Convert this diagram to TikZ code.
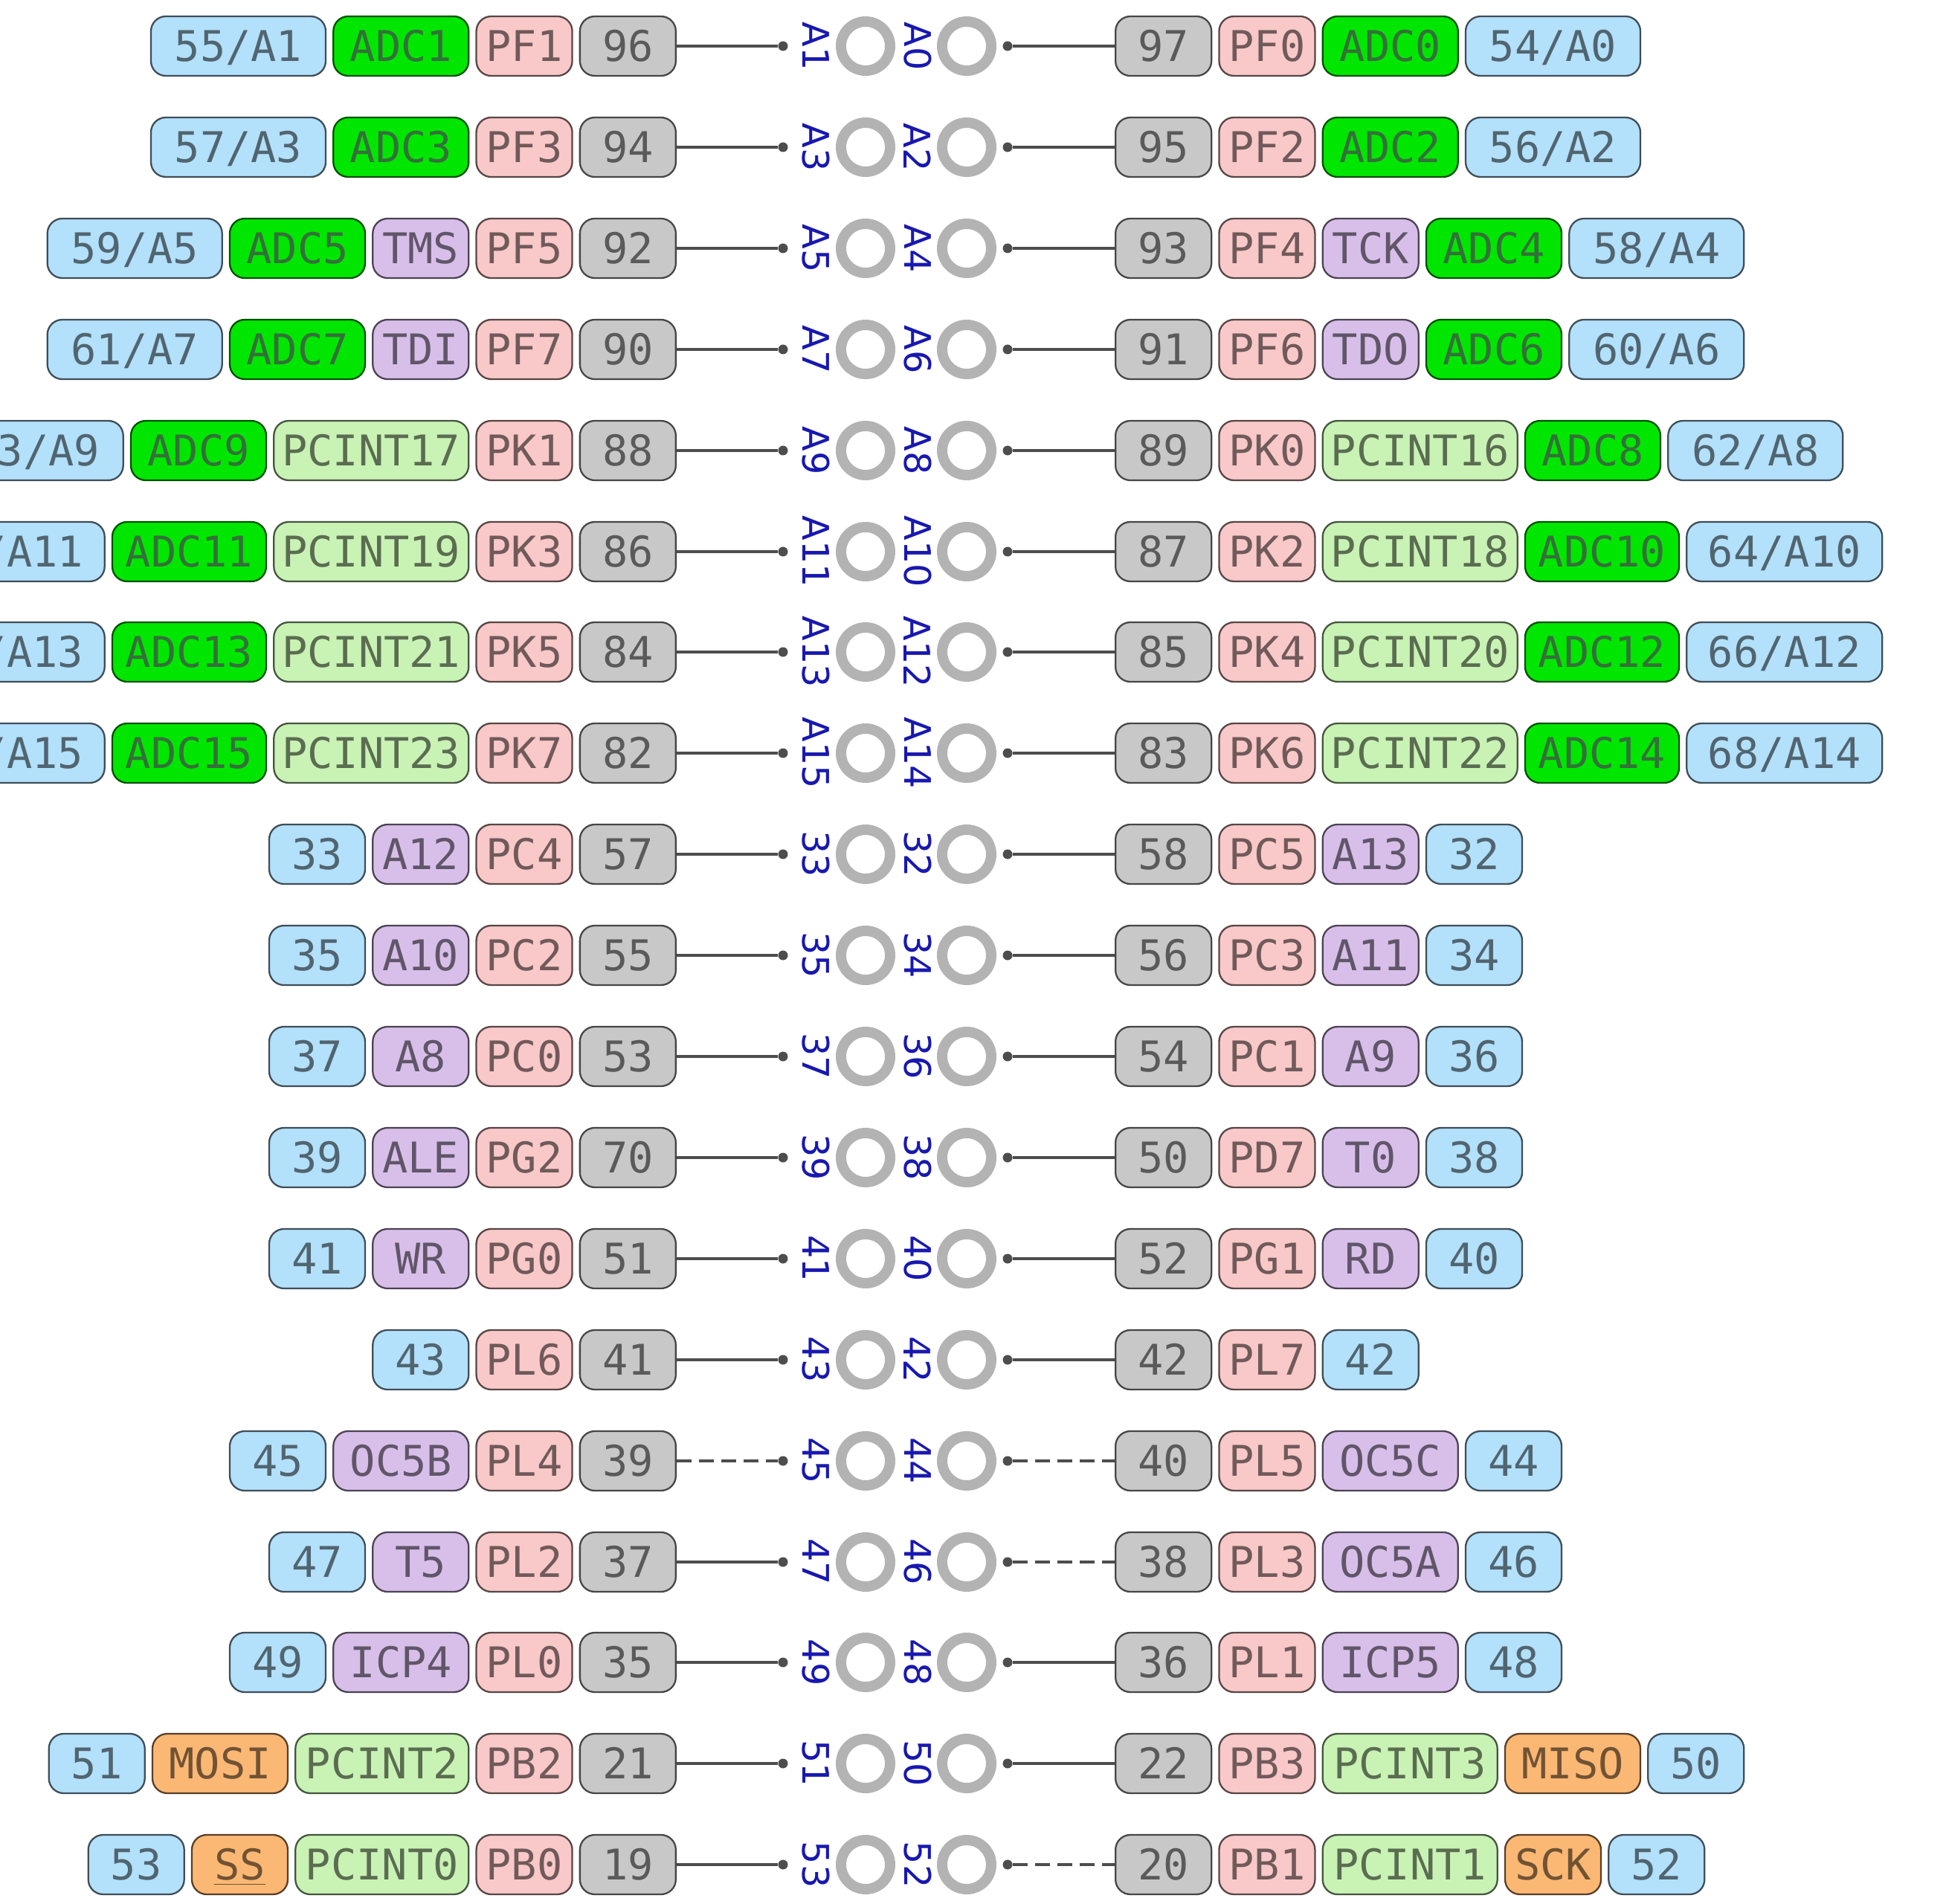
\documentclass[tikz,border=0pt]{standalone}
\usepackage{fontspec}
\usepackage{xcolor}
\usetikzlibrary{positioning}
\newfontfamily\pinmono{DejaVu Sans Mono}
\newfontfamily\pinsans{DejaVu Sans}
\definecolor{numgray}{HTML}{C8C8C8}
\definecolor{portpink}{HTML}{F9C8C8}
\definecolor{ardblue}{HTML}{B3E0FA}
\definecolor{adcgreen}{HTML}{00E600}
\definecolor{adctext}{HTML}{35703A}
\definecolor{altpurple}{HTML}{D8BFEA}
\definecolor{pcintgreen}{HTML}{C9F2B5}
\definecolor{spiorange}{HTML}{FBB874}
\definecolor{ringgray}{HTML}{B3B3B3}
\definecolor{lblblue}{HTML}{1818B0}
\definecolor{wiregray}{HTML}{4D4D4D}

\begin{document}
\begin{tikzpicture}[
  node distance=0.08cm,
  box/.style={rectangle, rounded corners=0.2cm, draw=#1!35!black, fill=#1, text=#1!45!black, line width=0.65pt, minimum width=1.29cm, minimum height=0.80cm, inner sep=0pt, text height=11.8pt, text depth=0pt, font=\pinmono\fontsize{16.2pt}{17pt}\selectfont},
  num/.style={box=numgray},
  port/.style={box=portpink},
  ard/.style={box=ardblue},
  adc/.style={box=adcgreen, text=adctext},
  alt/.style={box=altpurple},
  pcint/.style={box=pcintgreen},
  spi/.style={box=spiorange},
  wd/.style={minimum width=#1},
  pinring/.style={circle, draw=ringgray, line width=0.14cm, minimum size=0.66cm, inner sep=0pt},
  pinlbl/.style={rotate=-90, text=lblblue, inner sep=0pt, font=\pinsans\fontsize{14pt}{14pt}\selectfont},
  pindot/.style={circle, fill=wiregray, minimum size=0.13cm, inner sep=0pt},
  wire/.style={wiregray, line width=0.04cm},
  dwire/.style={wire, dash pattern=on 0.2cm off 0.1cm},
]

% page
\fill[white] (0,0) rectangle (26.17,-25.61);
\useasboundingbox (0,0) rectangle (26.17,-25.61);

% A1 / A0
\node[num, anchor=east] (l1a) at (9.10,-0.62) {96};
\node[port, left=of l1a] (l1b) {PF1};
\node[adc, wd=1.82cm, left=of l1b] (l1c) {ADC1};
\node[ard, wd=2.35cm, left=of l1c] (l1d) {55/A1};
\node[pindot] (ld1) at (10.53,-0.62) {};
\node[pinlbl] (lt1) at (10.97,-0.62) {A1};
\node[pinring] (lc1) at (11.64,-0.62) {};
\node[pinlbl] (rt1) at (12.34,-0.62) {A0};
\node[pinring] (rc1) at (13.00,-0.62) {};
\node[pindot] (rd1) at (13.55,-0.62) {};
\node[num, anchor=west] (r1a) at (14.99,-0.62) {97};
\node[port, right=of r1a] (r1b) {PF0};
\node[adc, wd=1.82cm, right=of r1b] (r1c) {ADC0};
\node[ard, wd=2.35cm, right=of r1c] (r1d) {54/A0};
\draw[wire] (l1a) -- (ld1);
\draw[wire] (rd1) -- (r1a);

% A3 / A2
\node[num, anchor=east] (l2a) at (9.10,-1.98) {94};
\node[port, left=of l2a] (l2b) {PF3};
\node[adc, wd=1.82cm, left=of l2b] (l2c) {ADC3};
\node[ard, wd=2.35cm, left=of l2c] (l2d) {57/A3};
\node[pindot] (ld2) at (10.53,-1.98) {};
\node[pinlbl] (lt2) at (10.97,-1.98) {A3};
\node[pinring] (lc2) at (11.64,-1.98) {};
\node[pinlbl] (rt2) at (12.34,-1.98) {A2};
\node[pinring] (rc2) at (13.00,-1.98) {};
\node[pindot] (rd2) at (13.55,-1.98) {};
\node[num, anchor=west] (r2a) at (14.99,-1.98) {95};
\node[port, right=of r2a] (r2b) {PF2};
\node[adc, wd=1.82cm, right=of r2b] (r2c) {ADC2};
\node[ard, wd=2.35cm, right=of r2c] (r2d) {56/A2};
\draw[wire] (l2a) -- (ld2);
\draw[wire] (rd2) -- (r2a);

% A5 / A4
\node[num, anchor=east] (l3a) at (9.10,-3.34) {92};
\node[port, left=of l3a] (l3b) {PF5};
\node[alt, left=of l3b] (l3c) {TMS};
\node[adc, wd=1.82cm, left=of l3c] (l3d) {ADC5};
\node[ard, wd=2.35cm, left=of l3d] (l3e) {59/A5};
\node[pindot] (ld3) at (10.53,-3.34) {};
\node[pinlbl] (lt3) at (10.97,-3.34) {A5};
\node[pinring] (lc3) at (11.64,-3.34) {};
\node[pinlbl] (rt3) at (12.34,-3.34) {A4};
\node[pinring] (rc3) at (13.00,-3.34) {};
\node[pindot] (rd3) at (13.55,-3.34) {};
\node[num, anchor=west] (r3a) at (14.99,-3.34) {93};
\node[port, right=of r3a] (r3b) {PF4};
\node[alt, right=of r3b] (r3c) {TCK};
\node[adc, wd=1.82cm, right=of r3c] (r3d) {ADC4};
\node[ard, wd=2.35cm, right=of r3d] (r3e) {58/A4};
\draw[wire] (l3a) -- (ld3);
\draw[wire] (rd3) -- (r3a);

% A7 / A6
\node[num, anchor=east] (l4a) at (9.10,-4.70) {90};
\node[port, left=of l4a] (l4b) {PF7};
\node[alt, left=of l4b] (l4c) {TDI};
\node[adc, wd=1.82cm, left=of l4c] (l4d) {ADC7};
\node[ard, wd=2.35cm, left=of l4d] (l4e) {61/A7};
\node[pindot] (ld4) at (10.53,-4.70) {};
\node[pinlbl] (lt4) at (10.97,-4.70) {A7};
\node[pinring] (lc4) at (11.64,-4.70) {};
\node[pinlbl] (rt4) at (12.34,-4.70) {A6};
\node[pinring] (rc4) at (13.00,-4.70) {};
\node[pindot] (rd4) at (13.55,-4.70) {};
\node[num, anchor=west] (r4a) at (14.99,-4.70) {91};
\node[port, right=of r4a] (r4b) {PF6};
\node[alt, right=of r4b] (r4c) {TDO};
\node[adc, wd=1.82cm, right=of r4c] (r4d) {ADC6};
\node[ard, wd=2.35cm, right=of r4d] (r4e) {60/A6};
\draw[wire] (l4a) -- (ld4);
\draw[wire] (rd4) -- (r4a);

% A9 / A8
\node[num, anchor=east] (l5a) at (9.10,-6.06) {88};
\node[port, left=of l5a] (l5b) {PK1};
\node[pcint, wd=2.62cm, left=of l5b] (l5c) {PCINT17};
\node[adc, wd=1.82cm, left=of l5c] (l5d) {ADC9};
\node[ard, wd=2.35cm, left=of l5d] (l5e) {63/A9};
\node[pindot] (ld5) at (10.53,-6.06) {};
\node[pinlbl] (lt5) at (10.97,-6.06) {A9};
\node[pinring] (lc5) at (11.64,-6.06) {};
\node[pinlbl] (rt5) at (12.34,-6.06) {A8};
\node[pinring] (rc5) at (13.00,-6.06) {};
\node[pindot] (rd5) at (13.55,-6.06) {};
\node[num, anchor=west] (r5a) at (14.99,-6.06) {89};
\node[port, right=of r5a] (r5b) {PK0};
\node[pcint, wd=2.62cm, right=of r5b] (r5c) {PCINT16};
\node[adc, wd=1.82cm, right=of r5c] (r5d) {ADC8};
\node[ard, wd=2.35cm, right=of r5d] (r5e) {62/A8};
\draw[wire] (l5a) -- (ld5);
\draw[wire] (rd5) -- (r5a);

% A11 / A10
\node[num, anchor=east] (l6a) at (9.10,-7.42) {86};
\node[port, left=of l6a] (l6b) {PK3};
\node[pcint, wd=2.62cm, left=of l6b] (l6c) {PCINT19};
\node[adc, wd=2.07cm, left=of l6c] (l6d) {ADC11};
\node[ard, wd=2.63cm, left=of l6d] (l6e) {65/A11};
\node[pindot] (ld6) at (10.53,-7.42) {};
\node[pinlbl] (lt6) at (10.97,-7.42) {A11};
\node[pinring] (lc6) at (11.64,-7.42) {};
\node[pinlbl] (rt6) at (12.34,-7.42) {A10};
\node[pinring] (rc6) at (13.00,-7.42) {};
\node[pindot] (rd6) at (13.55,-7.42) {};
\node[num, anchor=west] (r6a) at (14.99,-7.42) {87};
\node[port, right=of r6a] (r6b) {PK2};
\node[pcint, wd=2.62cm, right=of r6b] (r6c) {PCINT18};
\node[adc, wd=2.07cm, right=of r6c] (r6d) {ADC10};
\node[ard, wd=2.63cm, right=of r6d] (r6e) {64/A10};
\draw[wire] (l6a) -- (ld6);
\draw[wire] (rd6) -- (r6a);

% A13 / A12
\node[num, anchor=east] (l7a) at (9.10,-8.77) {84};
\node[port, left=of l7a] (l7b) {PK5};
\node[pcint, wd=2.62cm, left=of l7b] (l7c) {PCINT21};
\node[adc, wd=2.07cm, left=of l7c] (l7d) {ADC13};
\node[ard, wd=2.63cm, left=of l7d] (l7e) {67/A13};
\node[pindot] (ld7) at (10.53,-8.77) {};
\node[pinlbl] (lt7) at (10.97,-8.77) {A13};
\node[pinring] (lc7) at (11.64,-8.77) {};
\node[pinlbl] (rt7) at (12.34,-8.77) {A12};
\node[pinring] (rc7) at (13.00,-8.77) {};
\node[pindot] (rd7) at (13.55,-8.77) {};
\node[num, anchor=west] (r7a) at (14.99,-8.77) {85};
\node[port, right=of r7a] (r7b) {PK4};
\node[pcint, wd=2.62cm, right=of r7b] (r7c) {PCINT20};
\node[adc, wd=2.07cm, right=of r7c] (r7d) {ADC12};
\node[ard, wd=2.63cm, right=of r7d] (r7e) {66/A12};
\draw[wire] (l7a) -- (ld7);
\draw[wire] (rd7) -- (r7a);

% A15 / A14
\node[num, anchor=east] (l8a) at (9.10,-10.13) {82};
\node[port, left=of l8a] (l8b) {PK7};
\node[pcint, wd=2.62cm, left=of l8b] (l8c) {PCINT23};
\node[adc, wd=2.07cm, left=of l8c] (l8d) {ADC15};
\node[ard, wd=2.63cm, left=of l8d] (l8e) {69/A15};
\node[pindot] (ld8) at (10.53,-10.13) {};
\node[pinlbl] (lt8) at (10.97,-10.13) {A15};
\node[pinring] (lc8) at (11.64,-10.13) {};
\node[pinlbl] (rt8) at (12.34,-10.13) {A14};
\node[pinring] (rc8) at (13.00,-10.13) {};
\node[pindot] (rd8) at (13.55,-10.13) {};
\node[num, anchor=west] (r8a) at (14.99,-10.13) {83};
\node[port, right=of r8a] (r8b) {PK6};
\node[pcint, wd=2.62cm, right=of r8b] (r8c) {PCINT22};
\node[adc, wd=2.07cm, right=of r8c] (r8d) {ADC14};
\node[ard, wd=2.63cm, right=of r8d] (r8e) {68/A14};
\draw[wire] (l8a) -- (ld8);
\draw[wire] (rd8) -- (r8a);

% 33 / 32
\node[num, anchor=east] (l9a) at (9.10,-11.49) {57};
\node[port, left=of l9a] (l9b) {PC4};
\node[alt, left=of l9b] (l9c) {A12};
\node[ard, left=of l9c] (l9d) {33};
\node[pindot] (ld9) at (10.53,-11.49) {};
\node[pinlbl] (lt9) at (10.97,-11.49) {33};
\node[pinring] (lc9) at (11.64,-11.49) {};
\node[pinlbl] (rt9) at (12.34,-11.49) {32};
\node[pinring] (rc9) at (13.00,-11.49) {};
\node[pindot] (rd9) at (13.55,-11.49) {};
\node[num, anchor=west] (r9a) at (14.99,-11.49) {58};
\node[port, right=of r9a] (r9b) {PC5};
\node[alt, right=of r9b] (r9c) {A13};
\node[ard, right=of r9c] (r9d) {32};
\draw[wire] (l9a) -- (ld9);
\draw[wire] (rd9) -- (r9a);

% 35 / 34
\node[num, anchor=east] (l10a) at (9.10,-12.85) {55};
\node[port, left=of l10a] (l10b) {PC2};
\node[alt, left=of l10b] (l10c) {A10};
\node[ard, left=of l10c] (l10d) {35};
\node[pindot] (ld10) at (10.53,-12.85) {};
\node[pinlbl] (lt10) at (10.97,-12.85) {35};
\node[pinring] (lc10) at (11.64,-12.85) {};
\node[pinlbl] (rt10) at (12.34,-12.85) {34};
\node[pinring] (rc10) at (13.00,-12.85) {};
\node[pindot] (rd10) at (13.55,-12.85) {};
\node[num, anchor=west] (r10a) at (14.99,-12.85) {56};
\node[port, right=of r10a] (r10b) {PC3};
\node[alt, right=of r10b] (r10c) {A11};
\node[ard, right=of r10c] (r10d) {34};
\draw[wire] (l10a) -- (ld10);
\draw[wire] (rd10) -- (r10a);

% 37 / 36
\node[num, anchor=east] (l11a) at (9.10,-14.21) {53};
\node[port, left=of l11a] (l11b) {PC0};
\node[alt, left=of l11b] (l11c) {A8};
\node[ard, left=of l11c] (l11d) {37};
\node[pindot] (ld11) at (10.53,-14.21) {};
\node[pinlbl] (lt11) at (10.97,-14.21) {37};
\node[pinring] (lc11) at (11.64,-14.21) {};
\node[pinlbl] (rt11) at (12.34,-14.21) {36};
\node[pinring] (rc11) at (13.00,-14.21) {};
\node[pindot] (rd11) at (13.55,-14.21) {};
\node[num, anchor=west] (r11a) at (14.99,-14.21) {54};
\node[port, right=of r11a] (r11b) {PC1};
\node[alt, right=of r11b] (r11c) {A9};
\node[ard, right=of r11c] (r11d) {36};
\draw[wire] (l11a) -- (ld11);
\draw[wire] (rd11) -- (r11a);

% 39 / 38
\node[num, anchor=east] (l12a) at (9.10,-15.57) {70};
\node[port, left=of l12a] (l12b) {PG2};
\node[alt, left=of l12b] (l12c) {ALE};
\node[ard, left=of l12c] (l12d) {39};
\node[pindot] (ld12) at (10.53,-15.57) {};
\node[pinlbl] (lt12) at (10.97,-15.57) {39};
\node[pinring] (lc12) at (11.64,-15.57) {};
\node[pinlbl] (rt12) at (12.34,-15.57) {38};
\node[pinring] (rc12) at (13.00,-15.57) {};
\node[pindot] (rd12) at (13.55,-15.57) {};
\node[num, anchor=west] (r12a) at (14.99,-15.57) {50};
\node[port, right=of r12a] (r12b) {PD7};
\node[alt, right=of r12b] (r12c) {T0};
\node[ard, right=of r12c] (r12d) {38};
\draw[wire] (l12a) -- (ld12);
\draw[wire] (rd12) -- (r12a);

% 41 / 40
\node[num, anchor=east] (l13a) at (9.10,-16.93) {51};
\node[port, left=of l13a] (l13b) {PG0};
\node[alt, left=of l13b] (l13c) {WR};
\node[ard, left=of l13c] (l13d) {41};
\node[pindot] (ld13) at (10.53,-16.93) {};
\node[pinlbl] (lt13) at (10.97,-16.93) {41};
\node[pinring] (lc13) at (11.64,-16.93) {};
\node[pinlbl] (rt13) at (12.34,-16.93) {40};
\node[pinring] (rc13) at (13.00,-16.93) {};
\node[pindot] (rd13) at (13.55,-16.93) {};
\node[num, anchor=west] (r13a) at (14.99,-16.93) {52};
\node[port, right=of r13a] (r13b) {PG1};
\node[alt, right=of r13b] (r13c) {RD};
\node[ard, right=of r13c] (r13d) {40};
\draw[wire] (l13a) -- (ld13);
\draw[wire] (rd13) -- (r13a);

% 43 / 42
\node[num, anchor=east] (l14a) at (9.10,-18.29) {41};
\node[port, left=of l14a] (l14b) {PL6};
\node[ard, left=of l14b] (l14c) {43};
\node[pindot] (ld14) at (10.53,-18.29) {};
\node[pinlbl] (lt14) at (10.97,-18.29) {43};
\node[pinring] (lc14) at (11.64,-18.29) {};
\node[pinlbl] (rt14) at (12.34,-18.29) {42};
\node[pinring] (rc14) at (13.00,-18.29) {};
\node[pindot] (rd14) at (13.55,-18.29) {};
\node[num, anchor=west] (r14a) at (14.99,-18.29) {42};
\node[port, right=of r14a] (r14b) {PL7};
\node[ard, right=of r14b] (r14c) {42};
\draw[wire] (l14a) -- (ld14);
\draw[wire] (rd14) -- (r14a);

% 45 / 44
\node[num, anchor=east] (l15a) at (9.10,-19.65) {39};
\node[port, left=of l15a] (l15b) {PL4};
\node[alt, wd=1.82cm, left=of l15b] (l15c) {OC5B};
\node[ard, left=of l15c] (l15d) {45};
\node[pindot] (ld15) at (10.53,-19.65) {};
\node[pinlbl] (lt15) at (10.97,-19.65) {45};
\node[pinring] (lc15) at (11.64,-19.65) {};
\node[pinlbl] (rt15) at (12.34,-19.65) {44};
\node[pinring] (rc15) at (13.00,-19.65) {};
\node[pindot] (rd15) at (13.55,-19.65) {};
\node[num, anchor=west] (r15a) at (14.99,-19.65) {40};
\node[port, right=of r15a] (r15b) {PL5};
\node[alt, wd=1.82cm, right=of r15b] (r15c) {OC5C};
\node[ard, right=of r15c] (r15d) {44};
\draw[dwire] (l15a) -- (ld15);
\draw[dwire] (rd15) -- (r15a);

% 47 / 46
\node[num, anchor=east] (l16a) at (9.10,-21.01) {37};
\node[port, left=of l16a] (l16b) {PL2};
\node[alt, left=of l16b] (l16c) {T5};
\node[ard, left=of l16c] (l16d) {47};
\node[pindot] (ld16) at (10.53,-21.01) {};
\node[pinlbl] (lt16) at (10.97,-21.01) {47};
\node[pinring] (lc16) at (11.64,-21.01) {};
\node[pinlbl] (rt16) at (12.34,-21.01) {46};
\node[pinring] (rc16) at (13.00,-21.01) {};
\node[pindot] (rd16) at (13.55,-21.01) {};
\node[num, anchor=west] (r16a) at (14.99,-21.01) {38};
\node[port, right=of r16a] (r16b) {PL3};
\node[alt, wd=1.82cm, right=of r16b] (r16c) {OC5A};
\node[ard, right=of r16c] (r16d) {46};
\draw[wire] (l16a) -- (ld16);
\draw[dwire] (rd16) -- (r16a);

% 49 / 48
\node[num, anchor=east] (l17a) at (9.10,-22.36) {35};
\node[port, left=of l17a] (l17b) {PL0};
\node[alt, wd=1.82cm, left=of l17b] (l17c) {ICP4};
\node[ard, left=of l17c] (l17d) {49};
\node[pindot] (ld17) at (10.53,-22.36) {};
\node[pinlbl] (lt17) at (10.97,-22.36) {49};
\node[pinring] (lc17) at (11.64,-22.36) {};
\node[pinlbl] (rt17) at (12.34,-22.36) {48};
\node[pinring] (rc17) at (13.00,-22.36) {};
\node[pindot] (rd17) at (13.55,-22.36) {};
\node[num, anchor=west] (r17a) at (14.99,-22.36) {36};
\node[port, right=of r17a] (r17b) {PL1};
\node[alt, wd=1.82cm, right=of r17b] (r17c) {ICP5};
\node[ard, right=of r17c] (r17d) {48};
\draw[wire] (l17a) -- (ld17);
\draw[wire] (rd17) -- (r17a);

% 51 / 50
\node[num, anchor=east] (l18a) at (9.10,-23.72) {21};
\node[port, left=of l18a] (l18b) {PB2};
\node[pcint, wd=2.33cm, left=of l18b] (l18c) {PCINT2};
\node[spi, wd=1.82cm, left=of l18c] (l18d) {MOSI};
\node[ard, left=of l18d] (l18e) {51};
\node[pindot] (ld18) at (10.53,-23.72) {};
\node[pinlbl] (lt18) at (10.97,-23.72) {51};
\node[pinring] (lc18) at (11.64,-23.72) {};
\node[pinlbl] (rt18) at (12.34,-23.72) {50};
\node[pinring] (rc18) at (13.00,-23.72) {};
\node[pindot] (rd18) at (13.55,-23.72) {};
\node[num, anchor=west] (r18a) at (14.99,-23.72) {22};
\node[port, right=of r18a] (r18b) {PB3};
\node[pcint, wd=2.35cm, right=of r18b] (r18c) {PCINT3};
\node[spi, wd=1.82cm, right=of r18c] (r18d) {MISO};
\node[ard, right=of r18d] (r18e) {50};
\draw[wire] (l18a) -- (ld18);
\draw[wire] (rd18) -- (r18a);

% 53 / 52
\node[num, anchor=east] (l19a) at (9.10,-25.08) {19};
\node[port, left=of l19a] (l19b) {PB0};
\node[pcint, wd=2.33cm, left=of l19b] (l19c) {PCINT0};
\node[spi, left=of l19c] (l19d) {\underline{SS}};
\node[ard, left=of l19d] (l19e) {53};
\node[pindot] (ld19) at (10.53,-25.08) {};
\node[pinlbl] (lt19) at (10.97,-25.08) {53};
\node[pinring] (lc19) at (11.64,-25.08) {};
\node[pinlbl] (rt19) at (12.34,-25.08) {52};
\node[pinring] (rc19) at (13.00,-25.08) {};
\node[pindot] (rd19) at (13.55,-25.08) {};
\node[num, anchor=west] (r19a) at (14.99,-25.08) {20};
\node[port, right=of r19a] (r19b) {PB1};
\node[pcint, wd=2.35cm, right=of r19b] (r19c) {PCINT1};
\node[spi, right=of r19c] (r19d) {SCK};
\node[ard, right=of r19d] (r19e) {52};
\draw[wire] (l19a) -- (ld19);
\draw[dwire] (rd19) -- (r19a);

\end{tikzpicture}
\end{document}
